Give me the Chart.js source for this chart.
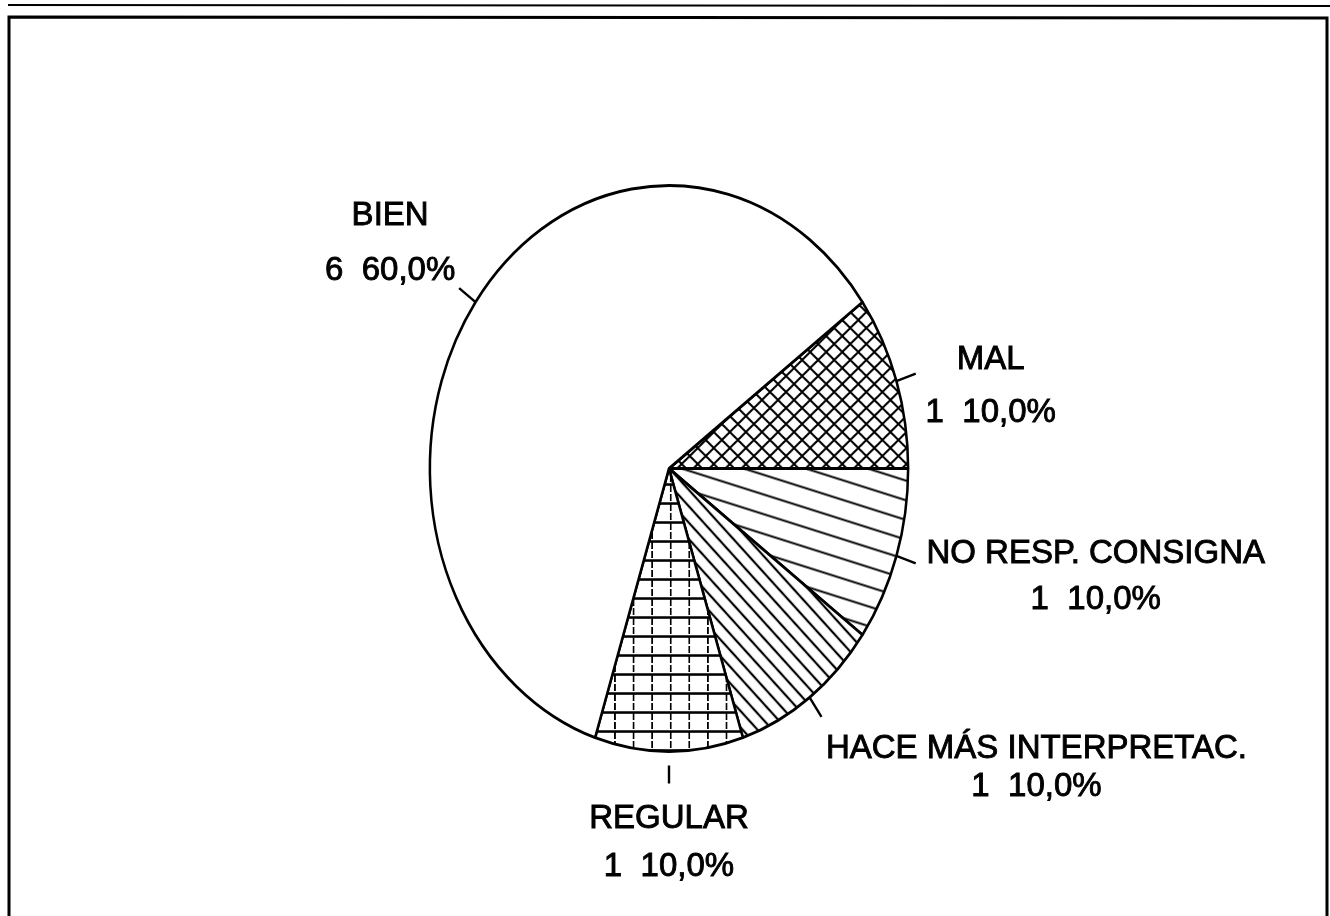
<!DOCTYPE html>
<html>
<head>
<meta charset="utf-8">
<script src="https://cdn.jsdelivr.net/npm/chart.js@4.4.1/dist/chart.umd.min.js"></script>
<style>
  html, body { margin: 0; padding: 0; background: #fff; }
  #wrap { position: relative; width: 1330px; height: 916px; }
</style>
</head>
<body>
<div id="wrap"><canvas id="pie" width="1330" height="916"></canvas></div>
<script>
// data (order follows the slices clockwise from the upper right)
const categories = ['MAL', 'NO RESP. CONSIGNA', 'HACE MÁS INTERPRETAC.', 'REGULAR', 'BIEN'];
const counts = [1, 1, 1, 1, 6];

// the scanned pie is an ellipse: squeeze it horizontally
const SX = 0.845;
const FONT = '33px "Liberation Sans", Arial, sans-serif';

function hatch(spacing, angle, width) {
    const c = document.createElement('canvas');
    c.width = spacing; c.height = spacing;
    const g = c.getContext('2d');
    g.fillStyle = '#fff';
    g.fillRect(0, 0, spacing, spacing);
    g.strokeStyle = '#000';
    g.lineWidth = width;
    g.beginPath();
    g.moveTo(0, spacing / 2); g.lineTo(spacing, spacing / 2);
    g.stroke();
    const p = g.createPattern(c, 'repeat');
    p.setTransform(new DOMMatrix().rotateSelf(angle));
    return p;
}

function crossHatch() {
    const c = document.createElement('canvas');
    c.width = 19; c.height = 16;
    const g = c.getContext('2d');
    g.fillStyle = '#fff';
    g.fillRect(0, 0, 19, 16);
    g.strokeStyle = '#000';
    g.lineWidth = 2.2;
    g.beginPath();
    g.moveTo(0, 0); g.lineTo(19, 16);
    g.moveTo(19, 0); g.lineTo(0, 16);
    g.stroke();
    return g.createPattern(c, 'repeat');
}

function grid() {
    const c = document.createElement('canvas');
    c.width = 22; c.height = 19;
    const g = c.getContext('2d');
    g.fillStyle = '#fff';
    g.fillRect(0, 0, 22, 19);
    g.strokeStyle = '#000';
    g.lineWidth = 2.6;
    g.beginPath();
    g.moveTo(0, 9.5); g.lineTo(22, 9.5);
    g.stroke();
    g.lineWidth = 2;
    g.setLineDash([7, 3]);
    g.beginPath();
    g.moveTo(11, 0); g.lineTo(11, 19);
    g.stroke();
    return g.createPattern(c, 'repeat');
}

const fills = [crossHatch(), hatch(19, 15, 2), hatch(12, 43, 2.4), grid(), '#fff'];

// where each label sits relative to the end of its leader tick: [dx, dy line 1, dy line 2]
const labelOffset = [[75, -5, 48], [180, 0, 46], [215, 41, 79], [0, 44, 92], [-69, -63, -8]];

const frame = {
    id: 'frame',
    beforeDraw(chart) {
        const ctx = chart.ctx;
        ctx.save();
        ctx.fillStyle = '#fff';
        ctx.fillRect(0, 0, chart.width, chart.height);
        ctx.strokeStyle = '#000';
        ctx.lineWidth = 2;
        ctx.beginPath();
        ctx.moveTo(8, 5); ctx.lineTo(1330, 6);
        ctx.stroke();
        ctx.lineWidth = 3;
        ctx.beginPath();
        ctx.moveTo(9, 916); ctx.lineTo(9, 17); ctx.lineTo(1327, 18); ctx.lineTo(1327, 916);
        ctx.stroke();
        ctx.restore();
    }
};

const ellipse = {
    id: 'ellipse',
    beforeDatasetsDraw(chart) {
        const a = chart.getDatasetMeta(0).data[0];
        const ctx = chart.ctx;
        ctx.save();
        ctx.translate(a.x, a.y);
        ctx.scale(SX, 1);
        ctx.translate(-a.x, -a.y);
    },
    afterDatasetsDraw(chart) {
        chart.ctx.restore();
    }
};

const labels = {
    id: 'sliceLabels',
    afterDraw(chart) {
        const ctx = chart.ctx;
        const total = counts.reduce((s, v) => s + v, 0);
        ctx.save();
        ctx.font = FONT;
        ctx.textAlign = 'center';
        ctx.textBaseline = 'alphabetic';
        chart.getDatasetMeta(0).data.forEach((arc, i) => {
            const mid = (arc.startAngle + arc.endAngle) / 2;
            const r = arc.outerRadius;
            const gap = i === 3 ? 14 : 0;
            const len = i === 3 ? 18 : 24;
            const x0 = arc.x + Math.cos(mid) * (r + gap) * SX;
            const y0 = arc.y + Math.sin(mid) * (r + gap);
            const x1 = arc.x + Math.cos(mid) * (r + gap + len) * SX;
            const y1 = arc.y + Math.sin(mid) * (r + gap + len);
            ctx.strokeStyle = '#000';
            ctx.lineWidth = 2.4;
            ctx.beginPath();
            ctx.moveTo(x0, y0); ctx.lineTo(x1, y1);
            ctx.stroke();
            const [dx, dy1, dy2] = labelOffset[i];
            const pct = (counts[i] / total * 100).toFixed(1).replace('.', ',') + '%';
            const line2 = counts[i] + '  ' + pct;
            ctx.fillStyle = '#000';
            ctx.lineWidth = 0.9;
            ctx.fillText(categories[i], x1 + dx, y1 + dy1);
            ctx.strokeText(categories[i], x1 + dx, y1 + dy1);
            ctx.fillText(line2, x1 + dx, y1 + dy2);
            ctx.strokeText(line2, x1 + dx, y1 + dy2);
        });
        ctx.restore();
    }
};

new Chart(document.getElementById('pie'), {
    type: 'pie',
    data: {
        labels: categories,
        datasets: [{
            data: counts,
            backgroundColor: fills,
            borderColor: '#000',
            borderWidth: 3,
            radius: 283
        }]
    },
    options: {
        responsive: false,
        animation: false,
        events: [],
        rotation: 54,
        layout: { padding: { left: 8, right: 0, top: 185, bottom: 164 } },
        plugins: {
            legend: { display: false },
            tooltip: { enabled: false }
        }
    },
    plugins: [frame, ellipse, labels]
});
</script>
</body>
</html>
